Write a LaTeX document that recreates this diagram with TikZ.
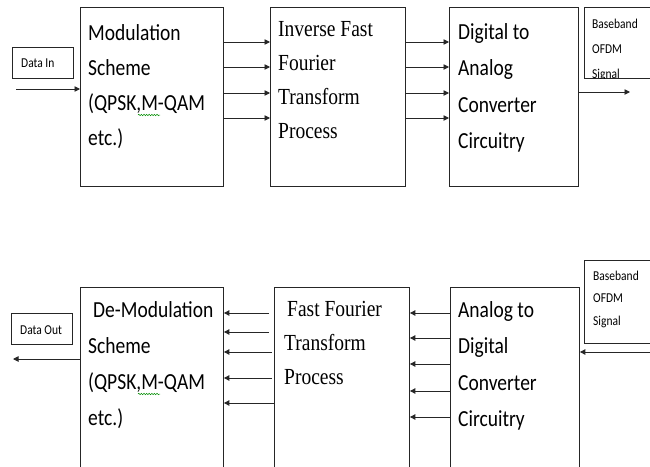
\documentclass[tikz,border=0pt]{standalone}
\usepackage{fontspec}
\usepackage{graphicx}
\setmainfont{Carlito}
\newfontfamily\tnr{Liberation Serif}
\usetikzlibrary{arrows.meta,decorations.pathmorphing,calc}
\newcommand\sy[1]{\scalebox{1}[1.18]{#1}}
\tikzset{
  box/.style={draw=black!85, line width=0.9pt, inner sep=0pt, anchor=north west},
  arr/.style={-{Triangle[length=5.5pt,width=5.5pt]}, line width=0.9pt, draw=black!85},
  txt/.style={anchor=base west, align=left, inner sep=0pt},
  big/.style={txt, font=\fontsize{19.5}{#1}\selectfont},
  small/.style={txt, font=\fontsize{11.5}{#1}\selectfont},
  squig/.style={draw=green!55!black, line width=0.5pt, decorate,
    decoration={snake, amplitude=0.7pt, segment length=2.6pt}}
}
\begin{document}
\begin{tikzpicture}[x=1pt, y=-1pt]
\useasboundingbox (0,0) rectangle (650,466);
\clip (0,0) rectangle (650,466);

% ---------- top row ----------
\node[box, minimum width=143pt, minimum height=179pt] (mod) at (80,7) {};
\node[box, minimum width=135pt, minimum height=179pt] (ifft) at (270,7) {};
\node[box, minimum width=129pt, minimum height=179pt] (dac) at (449,7) {};
\node[box, minimum width=80pt, minimum height=71pt] (bbt) at (584,7) {};
\node[box, minimum width=61pt, minimum height=31pt] (din) at (12,47) {};

% text nodes: anchor at baseline of the last line
\node[big=35] (modt) at (88,145) {\sy{Modulation}\\\sy{Scheme}\\\sy{(QPSK,M-QAM}\\\sy{etc.)}};
\node[big=33.7, font=\tnr\fontsize{19.5}{33.7}\selectfont] (ifftt) at (278,138) {\sy{Inverse Fast}\\\sy{Fourier}\\\sy{Transform}\\\sy{Process}};
\node[big=36.5] (dact) at (458,148.5) {\sy{Digital to}\\\sy{Analog}\\\sy{Converter}\\\sy{Circuitry}};
\begin{scope}
\clip (bbt.north west) rectangle (bbt.south east);
\node[small=25.3] (bbtt) at (592,78.6) {\sy{Baseband}\\\sy{OFDM}\\\sy{Signal}};
\end{scope}
\node[small=12] (dint) at (21,67) {\sy{Data In}};
\draw[squig] (138,115) -- (160,115);

\coordinate (inS) at (16,89);
\draw[arr] (inS) -- (mod.west |- inS);
\foreach \y in {42,67,93,118} {
  \draw[arr] (mod.east |- 0,\y) -- (ifft.west |- 0,\y);
  \draw[arr] (ifft.east |- 0,\y) -- (dac.west |- 0,\y);
}
\coordinate (outE) at (630,92);
\draw[arr] (dac.east |- outE) -- (outE);

% ---------- bottom row ----------
\node[box, minimum width=143pt, minimum height=200pt] (demod) at (80,287) {};
\node[box, minimum width=135pt, minimum height=200pt] (fft) at (274,287) {};
\node[box, minimum width=129pt, minimum height=200pt] (adc) at (450,287) {};
\node[box, minimum width=80pt, minimum height=83pt] (bbb) at (584,260) {};
\node[box, minimum width=61pt, minimum height=31pt] (dout) at (11,313) {};

\node[big=35.7] (demodt) at (88,425) {\hspace*{5pt}\sy{De-Modulation}\\\sy{Scheme}\\\sy{(QPSK,M-QAM}\\\sy{etc.)}};
\node[big=34, font=\tnr\fontsize{19.5}{34}\selectfont] (fftt) at (284,384) {\hspace*{3pt}\sy{Fast Fourier}\\\sy{Transform}\\\sy{Process}};
\node[big=36.5] (adct) at (458,426.5) {\sy{Analog to}\\\sy{Digital}\\\sy{Converter}\\\sy{Circuitry}};
\node[small=22.5] (bbbt) at (593,325) {\sy{Baseband}\\\sy{OFDM}\\\sy{Signal}};
\node[small=12] (doutt) at (20,334) {\sy{Data Out}};
\draw[squig] (138,394) -- (160,394);

\coordinate (doutE) at (13,359);
\draw[arr] (demod.west |- doutE) -- (doutE);
\foreach \y/\s in {313/269,332/269,352/272,378/272,403/274} {
  \draw[arr] (\s,\y) -- (demod.east |- 0,\y);
}
\foreach \y in {313,338,364,391,417} {
  \draw[arr] (adc.west |- 0,\y) -- (fft.east |- 0,\y);
}
\coordinate (inE) at (650,352);
\draw[arr] (inE) -- (adc.east |- inE);
\end{tikzpicture}
\end{document}
